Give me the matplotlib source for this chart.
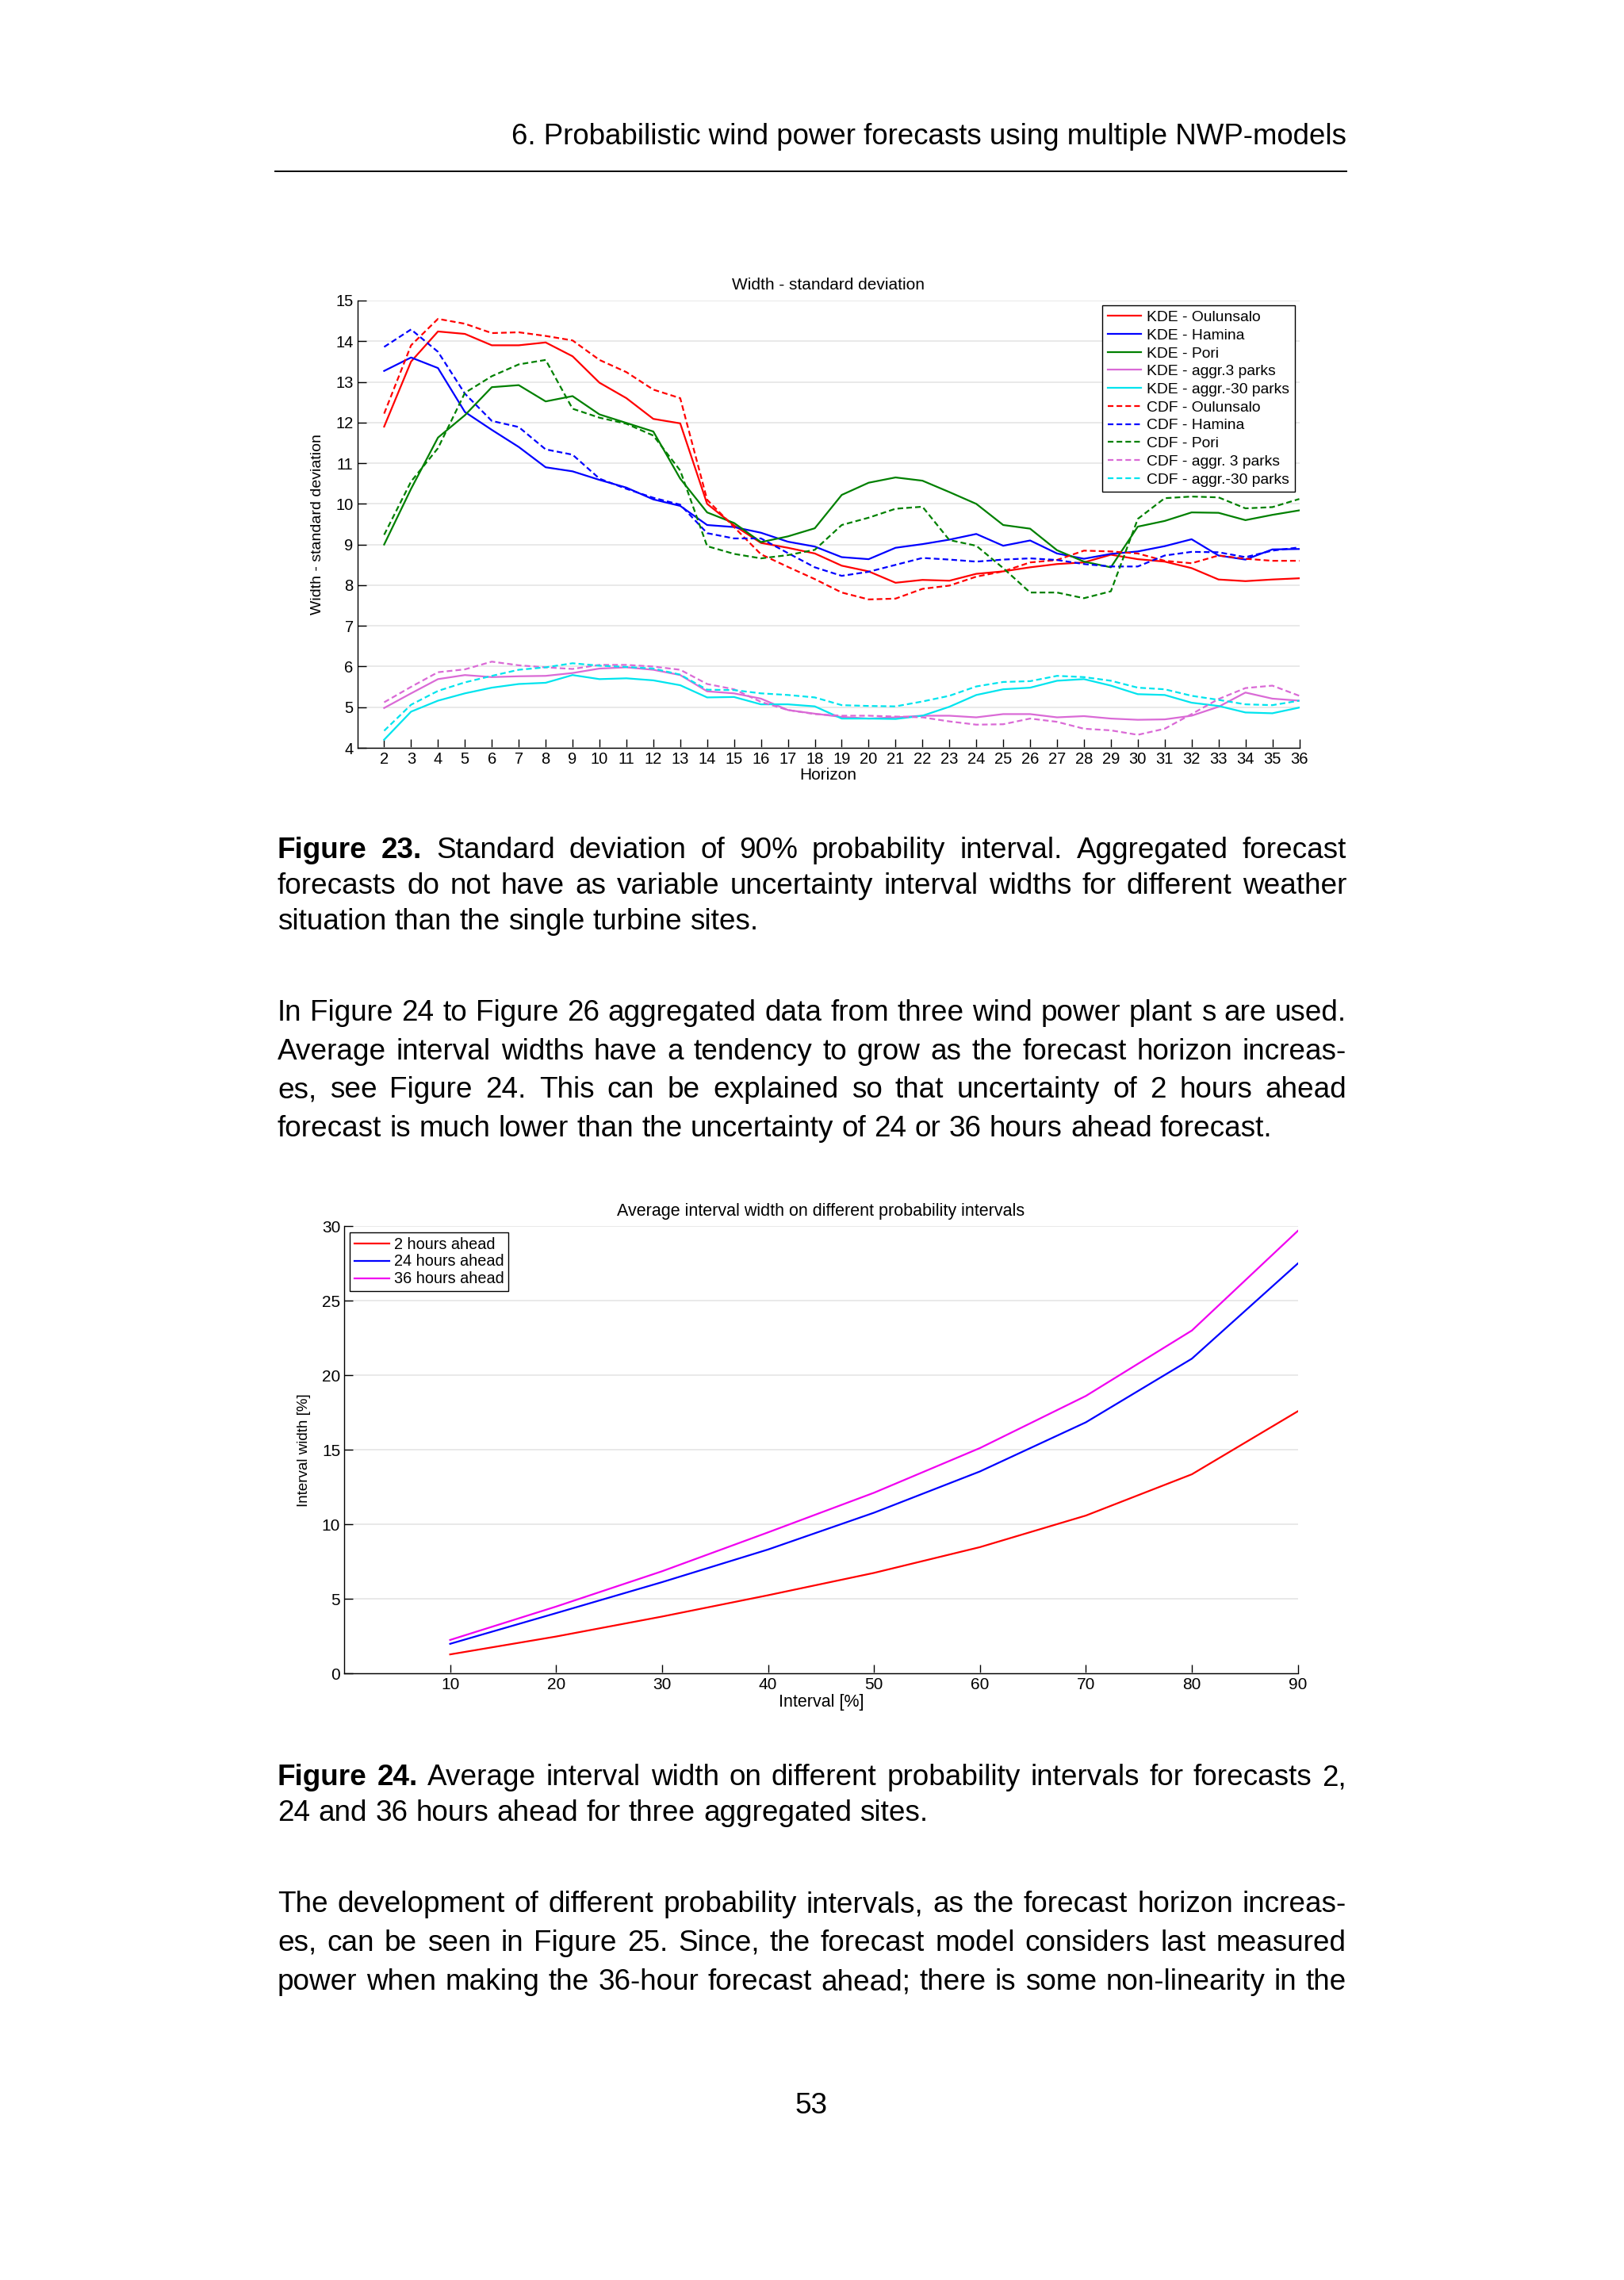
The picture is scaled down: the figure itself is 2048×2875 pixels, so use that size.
import numpy as np
import matplotlib
matplotlib.use("Agg")
import matplotlib.pyplot as plt

# page setup (pixel based, 100 dpi)
W, H = 2048, 2875
FONT = ['Liberation Sans', 'DejaVu Sans']
plt.rcParams['font.family'] = FONT

# ---- data: figure 23 (width - standard deviation) ----
horizon = list(range(2, 37))

kde_oulu = [11.9, 13.5, 14.24, 14.18, 13.9, 13.9, 13.97, 13.63, 12.98, 12.6, 12.09, 11.98, 10.0, 9.47, 9.04, 8.92, 8.78, 8.48,
            8.34, 8.06, 8.13, 8.11, 8.28, 8.34, 8.44, 8.52, 8.56, 8.75, 8.64, 8.58, 8.42, 8.14, 8.10, 8.14, 8.17]
kde_hamina = [13.27, 13.6, 13.34, 12.26, 11.82, 11.40, 10.9, 10.8, 10.59, 10.40, 10.11, 9.95, 9.48, 9.43, 9.29, 9.07, 8.95, 8.69,
              8.64, 8.92, 9.01, 9.12, 9.26, 8.97, 9.10, 8.78, 8.65, 8.77, 8.83, 8.96, 9.13, 8.73, 8.63, 8.88, 8.89]
kde_pori = [9.0, 10.37, 11.63, 12.18, 12.87, 12.92, 12.52, 12.65, 12.2, 11.99, 11.78, 10.62, 9.79, 9.53, 9.06, 9.2, 9.40, 10.22,
            10.52, 10.65, 10.57, 10.29, 10.0, 9.48, 9.39, 8.86, 8.58, 8.44, 9.44, 9.58, 9.79, 9.78, 9.60, 9.73, 9.84]
kde_aggr3 = [4.98, 5.34, 5.69, 5.79, 5.74, 5.76, 5.77, 5.84, 5.95, 5.98, 5.92, 5.79, 5.39, 5.34, 5.21, 4.93, 4.84, 4.76,
             4.72, 4.75, 4.79, 4.79, 4.75, 4.83, 4.83, 4.75, 4.78, 4.72, 4.69, 4.70, 4.79, 5.01, 5.36, 5.21, 5.16]
kde_aggr30 = [4.2, 4.89, 5.16, 5.34, 5.48, 5.57, 5.6, 5.79, 5.69, 5.71, 5.66, 5.54, 5.24, 5.25, 5.07, 5.07, 5.02, 4.72,
              4.72, 4.71, 4.79, 5.01, 5.30, 5.44, 5.48, 5.65, 5.69, 5.53, 5.32, 5.30, 5.11, 5.03, 4.87, 4.85, 4.99]
cdf_oulu = [12.22, 13.9, 14.55, 14.43, 14.2, 14.22, 14.13, 14.02, 13.54, 13.24, 12.81, 12.6, 10.1, 9.43, 8.76, 8.45, 8.15, 7.82,
            7.65, 7.67, 7.91, 7.99, 8.21, 8.34, 8.56, 8.62, 8.85, 8.83, 8.78, 8.60, 8.54, 8.73, 8.65, 8.60, 8.60]
cdf_hamina = [13.86, 14.29, 13.74, 12.71, 12.04, 11.89, 11.34, 11.21, 10.62, 10.37, 10.15, 9.98, 9.28, 9.15, 9.15, 8.79, 8.44, 8.23,
              8.33, 8.50, 8.67, 8.63, 8.58, 8.63, 8.66, 8.62, 8.52, 8.46, 8.46, 8.73, 8.82, 8.81, 8.69, 8.85, 8.93]
cdf_pori = [9.24, 10.55, 11.37, 12.73, 13.14, 13.43, 13.54, 12.34, 12.12, 11.97, 11.68, 10.82, 8.96, 8.77, 8.66, 8.74, 8.87, 9.48,
            9.66, 9.88, 9.93, 9.11, 8.97, 8.42, 7.82, 7.82, 7.68, 7.85, 9.63, 10.14, 10.18, 10.16, 9.89, 9.92, 10.12]
cdf_aggr3 = [5.12, 5.50, 5.86, 5.93, 6.12, 6.03, 5.98, 5.94, 6.04, 6.04, 6.0, 5.92, 5.57, 5.44, 5.13, 4.93, 4.83, 4.79,
             4.79, 4.77, 4.75, 4.65, 4.57, 4.58, 4.72, 4.64, 4.47, 4.43, 4.32, 4.47, 4.83, 5.20, 5.47, 5.53, 5.28]
cdf_aggr30 = [4.42, 5.06, 5.40, 5.61, 5.77, 5.92, 5.98, 6.08, 6.02, 5.99, 5.95, 5.80, 5.43, 5.42, 5.34, 5.30, 5.24, 5.05,
              5.03, 5.02, 5.14, 5.28, 5.51, 5.62, 5.64, 5.77, 5.74, 5.65, 5.48, 5.44, 5.28, 5.18, 5.07, 5.05, 5.16]

labels_23 = ['KDE - Oulunsalo', 'KDE - Hamina', 'KDE - Pori', 'KDE - aggr.3 parks', 'KDE - aggr.-30 parks',
             'CDF - Oulunsalo', 'CDF - Hamina', 'CDF - Pori', 'CDF - aggr. 3 parks', 'CDF - aggr.-30 parks']

# ---- data: figure 24 (average interval width) ----
interval = [10, 20, 30, 40, 50, 60, 70, 80, 90]
width_2h = [1.27, 2.47, 3.81, 5.24, 6.74, 8.47, 10.59, 13.36, 17.59]
width_24h = [1.98, 4.04, 6.12, 8.31, 10.78, 13.55, 16.85, 21.12, 27.51]
width_36h = [2.24, 4.48, 6.85, 9.46, 12.12, 15.12, 18.62, 23.01, 29.7]
labels_24 = ['2 hours ahead', '24 hours ahead', '36 hours ahead']

# ---- page text ----
header = "6. Probabilistic wind power forecasts using multiple NWP-models"
caption_23 = ["Figure 23. Standard deviation of 90% probability interval. Aggregated forecast",
              "forecasts do not have as variable uncertainty interval widths for different weather",
              "situation than the single turbine sites."]
para_1 = ["In Figure 24 to Figure 26 aggregated data from three wind power plant s are used.",
          "Average interval widths have a tendency to grow as the forecast horizon increas-",
          "es, see Figure 24. This can be explained so that uncertainty of 2 hours ahead",
          "forecast is much lower than the uncertainty of 24 or 36 hours ahead forecast."]
caption_24 = ["Figure 24. Average interval width on different probability intervals for forecasts 2,",
              "24 and 36 hours ahead for three aggregated sites."]
para_2 = ["The development of different probability intervals, as the forecast horizon increas-",
          "es, can be seen in Figure 25. Since, the forecast model considers last measured",
          "power when making the 36-hour forecast ahead; there is some non-linearity in the"]
page_no = "53"

fig = plt.figure(figsize=(W / 100, H / 100), dpi=100)
fig.patch.set_facecolor('white')


def fx(px):
    return px / W


def fy(py):
    return 1 - py / H


def style_axes(ax, fs):
    for s in ['top', 'right']:
        ax.spines[s].set_visible(False)
    for s in ['left', 'bottom']:
        ax.spines[s].set_linewidth(1.0)
    ax.tick_params(direction='in', length=8, width=1, labelsize=fs, pad=3.5)
    ax.yaxis.grid(True, color='#e3e3e3', lw=1.1)
    ax.set_axisbelow(True)


# ---- chart 1 ----
ax1 = fig.add_axes([fx(450.5), fy(943), fx(1638.5) - fx(450.5), fy(379) - fy(943)])
colors = ['#ff0000', '#0000ff', '#008000', '#da6ad6', '#00e4ee']
series_23 = [kde_oulu, kde_hamina, kde_pori, kde_aggr3, kde_aggr30,
             cdf_oulu, cdf_hamina, cdf_pori, cdf_aggr3, cdf_aggr30]
for i, (vals, lab) in enumerate(zip(series_23, labels_23)):
    if i < 5:
        ax1.plot(horizon, vals, color=colors[i], lw=1.6, label=lab)
    else:
        ax1.plot(horizon, vals, color=colors[i - 5], lw=1.6, label=lab, dashes=(3.2, 1.8))
ax1.set_xlim(1, 36)
ax1.set_ylim(4, 15)
ax1.set_xticks(horizon)
ax1.set_yticks(range(4, 16))
style_axes(ax1, 14.5)
ax1.set_title('Width - standard deviation', fontsize=15, y=1.019, va='center')
ax1.set_xlabel('Horizon', fontsize=15)
ax1.xaxis.set_label_coords(0.5, -0.062)
ax1.xaxis.label.set_va('center')
ax1.set_ylabel('Width - standard deviation', fontsize=14)
ax1.yaxis.set_label_coords(-0.0425, 0.5)
ax1.yaxis.label.set_va('center')
leg1 = ax1.legend(loc='upper right', fontsize=13.9, frameon=True, fancybox=False, framealpha=1,
                  edgecolor='black', borderaxespad=0.3, labelspacing=0.27, handlelength=2.2,
                  handletextpad=0.35, borderpad=0.35)
leg1.get_frame().set_linewidth(1.0)

# ---- chart 2 ----
ax2 = fig.add_axes([fx(434), fy(2110), fx(1636.7) - fx(434), fy(1546.4) - fy(2110)])
ax2.plot(interval, width_2h, color='#ff0000', lw=1.6, label=labels_24[0])
ax2.plot(interval, width_24h, color='#0000ff', lw=1.6, label=labels_24[1])
ax2.plot(interval, width_36h, color='#f000f0', lw=1.6, label=labels_24[2])
ax2.set_xlim(0, 90)
ax2.set_ylim(0, 30)
ax2.set_xticks(interval)
ax2.set_yticks(range(0, 31, 5))
style_axes(ax2, 15)
ax2.set_title('Average interval width on different probability intervals', fontsize=15.5, y=1.018, va='center')
ax2.set_xlabel('Interval [%]', fontsize=15.5)
ax2.xaxis.set_label_coords(0.5, -0.065)
ax2.xaxis.label.set_va('center')
ax2.set_ylabel('Interval width [%]', fontsize=13.5)
ax2.yaxis.set_label_coords(-0.0424, 0.5)
ax2.yaxis.label.set_va('center')
leg2 = ax2.legend(loc='upper left', fontsize=14.3, frameon=True, fancybox=False, framealpha=1,
                  edgecolor='black', borderaxespad=0.36, labelspacing=0.15, handlelength=2.2,
                  handletextpad=0.3, borderpad=0.3)
leg2.get_frame().set_linewidth(1.0)

# ---- page text ----
renderer = fig.canvas.get_renderer()
BODY = 26.6
LEFT, RIGHT = 350, 1698


def put_line(y_base, line, justify, bold_words=0):
    words = line.split(' ')
    texts = []
    for k, w in enumerate(words):
        t = fig.text(0, fy(y_base), w, fontsize=BODY, va='baseline', ha='left',
                     weight='bold' if k < bold_words else 'normal')
        texts.append(t)
    widths = [t.get_window_extent(renderer).width for t in texts]
    if justify and len(words) > 1:
        gap = (RIGHT - LEFT - sum(widths)) / (len(words) - 1)
    else:
        probe = fig.text(0, 0, 'x x', fontsize=BODY)
        probe2 = fig.text(0, 0, 'xx', fontsize=BODY)
        gap = probe.get_window_extent(renderer).width - probe2.get_window_extent(renderer).width
        probe.remove()
        probe2.remove()
    x = LEFT
    for t, w in zip(texts, widths):
        t.set_x(fx(x))
        x += w + gap


def put_block(lines, y0, step, last_justified=False, bold_first=0):
    for i, line in enumerate(lines):
        last = i == len(lines) - 1
        put_line(y0 + i * step, line, justify=(not last) or last_justified,
                 bold_words=bold_first if i == 0 else 0)


fig.text(fx(1698), fy(182.5), header, fontsize=26.4, ha='right', va='baseline')
fig.add_artist(plt.Line2D([fx(347), fx(1698)], [fy(216), fy(216)], color='black', lw=1.4))

put_block(caption_23, 1082, 45, bold_first=2)
put_block(para_1, 1287, 48.7)
put_block(caption_24, 2251, 44.5, bold_first=2)
put_block(para_2, 2411, 49, last_justified=True)

fig.text(fx(1023), fy(2665), page_no, fontsize=BODY, ha='center', va='baseline')

fig.savefig('out.png', dpi=100, facecolor='white')
